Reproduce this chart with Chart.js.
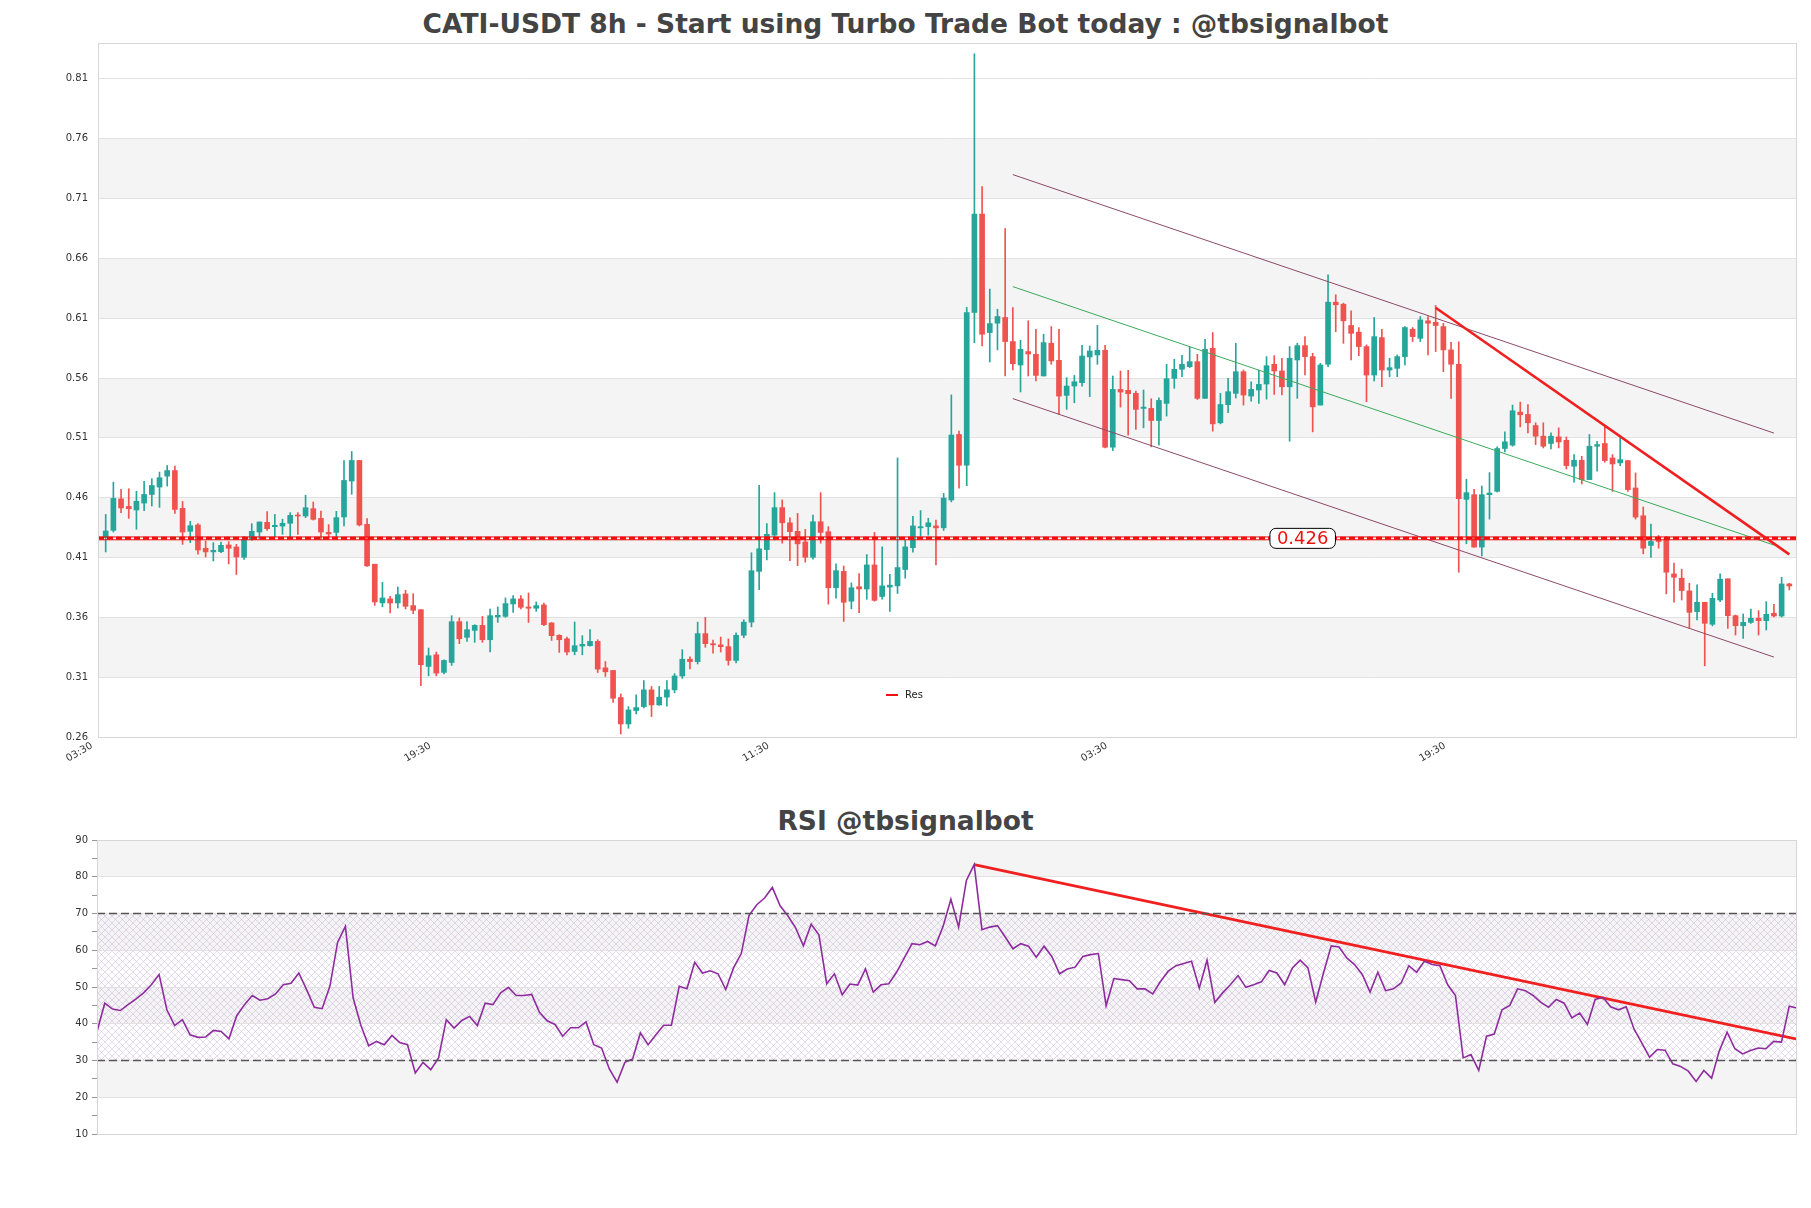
<!DOCTYPE html>
<html>
<head>
<meta charset="utf-8">
<script src="https://cdn.jsdelivr.net/npm/chart.js@4.4.0/dist/chart.umd.min.js"></script>
<style>
    body { margin: 0; background: #fff; width: 1811px; height: 1208px; position: relative; overflow: hidden; font-family: "DejaVu Sans", sans-serif; }
    .title { position: absolute; left: 0; width: 1811px; text-align: center; font-weight: bold; font-size: 26.5px; color: #444; line-height: 31px; }
    #priceWrap { position: absolute; left: 0; top: 0; }
    #rsiWrap { position: absolute; left: 0; top: 790px; }
</style>
</head>
<body>
<div class="title" style="top:8px">CATI-USDT 8h - Start using Turbo Trade Bot today : @tbsignalbot</div>
<div class="title" style="top:805px">RSI @tbsignalbot</div>
<div id="priceWrap"><canvas id="priceChart" width="1811" height="790"></canvas></div>
<div id="rsiWrap"><canvas id="rsiChart" width="1811" height="418"></canvas></div>
<script>
// candles (8h)
const candleOpen = [
    0.4267,0.4327,0.459,0.4527,0.4497,0.4555,0.4627,0.4689,0.478,0.4827,
    0.4511,0.4319,0.4372,0.4177,0.4147,0.4149,0.4205,0.4188,0.4102,0.4252,
    0.4313,0.4394,0.4358,0.4363,0.4386,0.4455,0.4447,0.4508,0.4427,0.431,
    0.431,0.4439,0.4739,0.4911,0.4377,0.4044,0.3721,0.3754,0.372,0.3796,
    0.3698,0.3664,0.319,0.3287,0.314,0.3223,0.3564,0.3433,0.3491,0.3533,
    0.3413,0.3603,0.3608,0.3712,0.3754,0.3687,0.3676,0.3704,0.3553,0.345,
    0.3421,0.3315,0.336,0.3363,0.3399,0.3178,0.3156,0.293,0.2709,0.2821,
    0.2854,0.2994,0.2868,0.2933,0.2994,0.311,0.325,0.323,0.3464,0.338,
    0.337,0.3355,0.324,0.345,0.356,0.3984,0.4166,0.4287,0.4517,0.439,
    0.4319,0.423,0.4102,0.4399,0.4316,0.3847,0.3984,0.3735,0.3856,0.3837,
    0.4038,0.3774,0.3853,0.3863,0.4,0.4182,0.4348,0.4358,0.4364,0.4348,
    0.4581,0.5128,0.4871,0.6148,0.697,0.598,0.6058,0.6106,0.5905,0.5709,
    0.5821,0.5798,0.5617,0.5891,0.5748,0.5455,0.5533,0.5561,0.5776,0.5793,
    0.5832,0.5022,0.5505,0.5497,0.5472,0.5346,0.5346,0.5245,0.5388,0.5597,
    0.5673,0.5695,0.5737,0.543,0.5849,0.5226,0.5377,0.5472,0.5653,0.5449,
    0.55,0.555,0.5715,0.5659,0.5527,0.5751,0.5871,0.5779,0.5374,0.5715,
    0.6234,0.6217,0.6039,0.5983,0.5863,0.5625,0.5938,0.5667,0.5681,0.5779,
    0.6008,0.5932,0.6078,0.6066,0.603,0.5835,0.5715,0.4586,0.4625,0.4187,
    0.4625,0.4653,0.5011,0.5039,0.5315,0.5296,0.5203,0.5114,0.5053,0.5108,
    0.508,0.4863,0.4913,0.4751,0.503,0.5053,0.4932,0.4891,0.491,0.4681,
    0.4449,0.4201,0.4248,0.4254,0.3963,0.3927,0.3821,0.3648,0.3726,0.3542,
    0.3745,0.3922,0.3614,0.353,0.3558,0.3592,0.3572,0.3634,0.3611,0.3879
];
const candleHigh = [
    0.446,0.473,0.467,0.4675,0.4653,0.4736,0.4758,0.4814,0.4869,0.4864,
    0.4569,0.4402,0.4383,0.4238,0.4224,0.423,0.4233,0.421,0.4275,0.4383,
    0.4397,0.4483,0.446,0.442,0.4475,0.4475,0.462,0.4564,0.4489,0.4375,
    0.4486,0.4911,0.4986,0.4911,0.4425,0.4044,0.3893,0.3776,0.3854,0.3826,
    0.3798,0.3664,0.3343,0.331,0.3245,0.3614,0.3595,0.3564,0.3539,0.3608,
    0.367,0.3687,0.3762,0.3782,0.3782,0.3804,0.3729,0.372,0.3558,0.3455,
    0.3435,0.3561,0.3447,0.3497,0.3413,0.3231,0.3156,0.296,0.2854,0.2952,
    0.3072,0.3022,0.3022,0.3072,0.313,0.333,0.327,0.356,0.36,0.341,
    0.3435,0.342,0.347,0.358,0.414,0.4703,0.4384,0.4642,0.4581,0.4431,
    0.4469,0.4335,0.4454,0.4642,0.4358,0.4048,0.4029,0.3888,0.3965,0.4125,
    0.431,0.4189,0.3959,0.4932,0.4246,0.4444,0.4492,0.4428,0.4412,0.4636,
    0.5459,0.5156,0.619,0.831,0.72,0.6343,0.6175,0.685,0.6189,0.5916,
    0.6078,0.6008,0.5966,0.603,0.6008,0.5603,0.5622,0.5874,0.5868,0.6041,
    0.5874,0.5617,0.5659,0.5664,0.5491,0.55,0.5427,0.5435,0.5715,0.5757,
    0.579,0.5863,0.5798,0.5924,0.598,0.5472,0.5597,0.589,0.5667,0.5569,
    0.5667,0.5779,0.5787,0.5765,0.5863,0.589,0.5946,0.5807,0.5723,0.6463,
    0.6296,0.6226,0.6161,0.6022,0.5877,0.6106,0.6008,0.5765,0.5793,0.603,
    0.6022,0.6114,0.6114,0.6206,0.6058,0.5899,0.5902,0.4754,0.467,0.4698,
    0.481,0.5025,0.515,0.5374,0.5399,0.5379,0.5226,0.5226,0.5142,0.5184,
    0.5108,0.496,0.4946,0.5128,0.5072,0.5203,0.496,0.51,0.491,0.4807,
    0.4522,0.4379,0.4284,0.4276,0.4053,0.4002,0.3885,0.3871,0.3726,0.3801,
    0.3963,0.3922,0.362,0.3628,0.367,0.3656,0.3731,0.3709,0.3935,0.3885
];
const candleLow = [
    0.4146,0.4313,0.4475,0.4427,0.4336,0.4492,0.453,0.4519,0.4697,0.4469,
    0.421,0.4224,0.4127,0.4105,0.4071,0.4141,0.4046,0.3958,0.4085,0.4244,
    0.4252,0.4327,0.4274,0.4294,0.4252,0.4294,0.4433,0.4413,0.4252,0.4252,
    0.4252,0.4364,0.4628,0.4364,0.4025,0.37,0.3688,0.3636,0.3678,0.367,
    0.3631,0.3028,0.3111,0.3111,0.3128,0.3198,0.338,0.3399,0.3391,0.3391,
    0.331,0.3558,0.36,0.3642,0.367,0.3558,0.365,0.353,0.3407,0.3307,
    0.3287,0.3287,0.3287,0.336,0.3139,0.3106,0.2888,0.2625,0.2673,0.2793,
    0.2843,0.2771,0.2865,0.2857,0.297,0.309,0.317,0.321,0.335,0.33,
    0.331,0.32,0.322,0.343,0.352,0.3831,0.408,0.4246,0.422,0.4074,
    0.4032,0.4061,0.4086,0.422,0.371,0.376,0.3566,0.3671,0.364,0.3751,
    0.3735,0.3751,0.3649,0.3799,0.3927,0.4144,0.4278,0.4287,0.4039,0.4326,
    0.4565,0.468,0.47,0.5896,0.5868,0.5734,0.5835,0.5617,0.5667,0.5483,
    0.5617,0.5575,0.5617,0.5715,0.5296,0.5338,0.5393,0.5533,0.5444,0.5715,
    0.5016,0.4994,0.5357,0.5123,0.517,0.5184,0.5025,0.5039,0.5282,0.5514,
    0.5611,0.5687,0.5421,0.543,0.5156,0.5217,0.531,0.5433,0.5374,0.5407,
    0.5388,0.5424,0.5463,0.5458,0.5072,0.543,0.5625,0.515,0.5374,0.5695,
    0.5988,0.589,0.5751,0.5787,0.5402,0.5575,0.5527,0.5611,0.5611,0.5709,
    0.5905,0.5905,0.5793,0.5821,0.5653,0.543,0.3977,0.4215,0.4187,0.4112,
    0.4421,0.4647,0.4983,0.503,0.5192,0.5142,0.5044,0.5016,0.5008,0.5016,
    0.484,0.4729,0.4715,0.4751,0.4821,0.4896,0.4653,0.4868,0.4653,0.4421,
    0.4131,0.41,0.4178,0.3796,0.3726,0.3745,0.3508,0.3578,0.3195,0.3528,
    0.3731,0.3508,0.3452,0.3424,0.355,0.3452,0.3494,0.3603,0.3603,0.3829
];
const candleClose = [
    0.4322,0.4594,0.4514,0.4508,0.457,0.4627,0.4702,0.4767,0.4827,0.4502,
    0.4313,0.4366,0.4163,0.4147,0.416,0.4202,0.4177,0.4105,0.4252,0.4319,
    0.4397,0.4341,0.4369,0.4386,0.4452,0.4447,0.4516,0.4419,0.4313,0.4297,
    0.4433,0.4744,0.4911,0.4372,0.403,0.3729,0.3762,0.372,0.379,0.3692,
    0.3659,0.3204,0.3279,0.3134,0.324,0.3564,0.3421,0.3497,0.3533,0.3413,
    0.3614,0.3617,0.3715,0.3754,0.3684,0.3676,0.3698,0.3539,0.3447,0.3413,
    0.331,0.3363,0.3374,0.3399,0.3167,0.3145,0.2924,0.2709,0.2826,0.2846,
    0.2994,0.2868,0.2933,0.2994,0.311,0.325,0.323,0.3464,0.338,0.337,
    0.3355,0.324,0.345,0.356,0.399,0.4173,0.4294,0.4517,0.439,0.4316,
    0.4214,0.4102,0.4399,0.431,0.3847,0.399,0.3726,0.3847,0.3837,0.4038,
    0.3742,0.3863,0.3869,0.4016,0.4189,0.4364,0.4358,0.439,0.4348,0.4597,
    0.5124,0.4871,0.6148,0.697,0.5966,0.6055,0.6114,0.5905,0.572,0.584,
    0.5801,0.5622,0.5896,0.5743,0.5449,0.5533,0.5569,0.5784,0.5826,0.5832,
    0.5022,0.5505,0.5483,0.5469,0.5338,0.5357,0.5245,0.5413,0.5594,0.5673,
    0.5715,0.5737,0.543,0.584,0.5217,0.5379,0.5486,0.5653,0.5458,0.5505,
    0.5547,0.5703,0.5659,0.5527,0.5765,0.5871,0.5779,0.536,0.5709,0.6234,
    0.6212,0.6078,0.5974,0.5863,0.5625,0.5946,0.5667,0.5687,0.5779,0.6022,
    0.5946,0.6086,0.6058,0.6039,0.5835,0.5715,0.4592,0.4642,0.4187,0.4625,
    0.4639,0.5011,0.5067,0.5326,0.5293,0.5226,0.5114,0.503,0.5114,0.5066,
    0.4868,0.4913,0.4751,0.503,0.5044,0.491,0.4882,0.4918,0.4667,0.4438,
    0.4178,0.4234,0.4234,0.3977,0.3935,0.3824,0.3642,0.3726,0.355,0.3759,
    0.3919,0.3614,0.353,0.3558,0.3592,0.3572,0.3625,0.3611,0.3879,0.3862
];
const rsiValues = [
    37.9,45.6,44.0,43.6,45.2,46.7,48.4,50.6,53.4,43.8,
    39.5,41.1,37.0,36.3,36.4,38.2,37.9,35.9,42.2,45.2,
    47.7,46.4,46.8,48.1,50.6,51.0,53.8,49.3,44.5,44.1,
    50.2,62.2,66.5,47.0,39.5,34.0,35.2,34.3,36.8,34.9,
    34.3,26.6,29.5,27.5,30.7,41.1,38.8,40.9,42.0,39.5,
    45.6,45.2,48.4,49.9,47.7,47.7,48.0,43.1,40.8,39.8,
    36.6,38.9,38.9,40.5,34.3,33.4,27.7,24.1,29.5,30.4,
    37.5,34.3,37.0,39.6,39.6,50.2,49.5,56.7,53.8,54.4,
    53.6,49.3,55.2,59.1,69.5,72.4,74.2,77.1,72.1,69.4,
    66.1,61.2,67.1,64.2,50.9,53.6,47.9,50.8,50.5,54.9,
    48.6,50.6,50.9,54.0,57.9,61.8,61.5,62.4,61.2,66.5,
    73.9,66.3,79.0,83.3,65.6,66.3,66.7,63.6,60.4,61.8,
    61.1,58.1,61.1,58.3,53.6,54.9,55.4,58.3,58.8,59.1,
    44.9,52.3,52.0,51.7,49.5,49.5,48.1,51.5,54.3,55.8,
    56.4,57.0,49.7,57.3,45.8,48.4,50.6,53.1,49.9,50.6,
    51.4,54.5,53.8,50.6,55.2,57.3,55.2,45.9,53.8,61.2,
    60.9,57.9,56.1,53.4,48.6,54.0,49.0,49.5,51.1,55.8,
    54.0,57.0,56.1,55.8,50.6,47.7,30.7,31.6,27.3,36.6,
    37.2,43.8,45.0,49.5,49.0,47.7,45.8,44.5,46.6,45.6,
    41.6,42.9,39.8,46.6,47.2,44.6,43.8,44.6,38.6,34.8,
    30.9,33.0,32.8,29.1,28.4,27.1,24.3,27.3,25.2,32.7,
    37.7,33.2,31.8,32.7,33.4,33.2,35.2,35.0,44.8,44.3
];

const xTickPositions = [-1, 43, 87, 131, 175];
const xTickLabels = ['03:30', '19:30', '11:30', '03:30', '19:30'];
const priceTicks = [0.26, 0.31, 0.36, 0.41, 0.46, 0.51, 0.56, 0.61, 0.66, 0.71, 0.76, 0.81];
const rsiLevels = [30, 70];

const resLevel = 0.426;
// [candle index, price]
const channelUpper = [[118, 0.730], [217, 0.514]];
const channelMiddle = [[118, 0.6364], [217, 0.4204]];
const channelLower = [[118, 0.5428], [217, 0.3268]];
const priceTrend = [[173, 0.6187], [219, 0.4126]];
// [rsi index, rsi]
const rsiTrend = [[113, 83.3], [219, 35.8]];

const upColor = '#26a69a';
const downColor = '#ef5350';
const candleColors = candleOpen.map((o, i) => candleClose[i] >= o ? upColor : downColor);

function toPoints(pairs) {
    return pairs.map(p => ({ x: p[0], y: p[1] }));
}

function lineDataset(pairs, color, width, dash) {
    return {
        type: 'line',
        data: toPoints(pairs),
        borderColor: color,
        borderWidth: width,
        borderDash: dash || [],
        pointRadius: 0,
        fill: false,
        tension: 0
    };
}

// grey bands + optional hatch behind everything
const bandsPlugin = {
    id: 'bands',
    beforeDraw(chart, args, opts) {
        const { ctx, chartArea } = chart;
        const y = chart.scales.y;
        ctx.save();
        ctx.fillStyle = '#f4f4f4';
        opts.bands.forEach(b => {
            const top = y.getPixelForValue(b[1]);
            const bottom = y.getPixelForValue(b[0]);
            ctx.fillRect(chartArea.left, top, chartArea.right - chartArea.left, bottom - top);
        });
        if (opts.hatch) {
            const tile = document.createElement('canvas');
            tile.width = 7; tile.height = 7;
            const t = tile.getContext('2d');
            t.strokeStyle = 'rgba(190,160,210,0.55)';
            t.lineWidth = 0.7;
            t.beginPath();
            t.moveTo(0, 0); t.lineTo(7, 7);
            t.moveTo(7, 0); t.lineTo(0, 7);
            t.stroke();
            ctx.fillStyle = ctx.createPattern(tile, 'repeat');
            const top = y.getPixelForValue(opts.hatch[1]);
            const bottom = y.getPixelForValue(opts.hatch[0]);
            ctx.fillRect(chartArea.left, top, chartArea.right - chartArea.left, bottom - top);
        }
        ctx.restore();
    },
    afterDraw(chart) {
        const { ctx, chartArea } = chart;
        ctx.save();
        ctx.strokeStyle = '#d6d6d6';
        ctx.lineWidth = 1;
        ctx.strokeRect(chartArea.left + 0.5, chartArea.top + 0.5,
            chartArea.right - chartArea.left - 1, chartArea.bottom - chartArea.top);
        ctx.restore();
    }
};

// price label box and the small legend
const priceNotes = {
    id: 'priceNotes',
    afterDatasetsDraw(chart) {
        const { ctx } = chart;
        const x = chart.scales.x.getPixelForValue(155.7);
        const y = chart.scales.y.getPixelForValue(resLevel);
        ctx.save();
        ctx.font = '18px "DejaVu Sans"';
        const label = resLevel.toFixed(3);
        const w = ctx.measureText(label).width + 14;
        const h = 20;
        ctx.beginPath();
        ctx.roundRect(x - w / 2, y - h / 2, w, h, 6);
        ctx.fillStyle = '#fff';
        ctx.fill();
        ctx.strokeStyle = '#000';
        ctx.lineWidth = 1;
        ctx.stroke();
        ctx.fillStyle = '#ee1111';
        ctx.textAlign = 'center';
        ctx.textBaseline = 'middle';
        ctx.fillText(label, x, y + 1);

        // legend
        ctx.strokeStyle = '#ee1111';
        ctx.lineWidth = 2;
        ctx.beginPath();
        ctx.moveTo(886, 695);
        ctx.lineTo(898, 695);
        ctx.stroke();
        ctx.fillStyle = '#222';
        ctx.font = '10px "DejaVu Sans"';
        ctx.textAlign = 'left';
        ctx.fillText('Res', 905, 695);
        ctx.restore();
    }
};

const candleIdx = candleOpen.map((_, i) => i);

new Chart(document.getElementById('priceChart'), {
    type: 'bar',
    data: {
        datasets: [
            {
                data: candleIdx.map(i => ({ x: i, y: [candleLow[i], candleHigh[i]] })),
                backgroundColor: candleColors,
                barThickness: 1,
                grouped: false,
                order: 3
            },
            {
                data: candleIdx.map(i => ({ x: i, y: [candleOpen[i], candleClose[i]] })),
                backgroundColor: candleColors,
                barThickness: 5,
                minBarLength: 1,
                grouped: false,
                order: 2
            },
            Object.assign(lineDataset([[-1, resLevel - 0.0012], [220, resLevel - 0.0012]], '#ee1111', 1), { order: 1 }),
            Object.assign(lineDataset([[-1, resLevel + 0.0012], [220, resLevel + 0.0012]], '#ee1111', 1), { order: 1 }),
            Object.assign(lineDataset([[-1, resLevel], [220, resLevel]], '#ee1111', 3, [6, 3]), { order: 1 }),
            Object.assign(lineDataset(channelUpper, '#8c4a66', 1), { order: 1 }),
            Object.assign(lineDataset(channelMiddle, '#3caa5c', 1), { order: 1 }),
            Object.assign(lineDataset(channelLower, '#8c4a66', 1), { order: 1 }),
            Object.assign(lineDataset(priceTrend, '#f02020', 2.6), { order: 0 })
        ]
    },
    options: {
        responsive: false,
        animation: false,
        layout: { padding: { left: 0, right: 14, top: 43, bottom: 0 } },
        plugins: {
            legend: { display: false },
            tooltip: { enabled: false },
            bands: { bands: [[0.31, 0.36], [0.41, 0.46], [0.51, 0.56], [0.61, 0.66], [0.71, 0.76]] }
        },
        scales: {
            x: {
                type: 'linear',
                min: -1,
                max: 220,
                offset: false,
                grid: { display: false },
                border: { display: false },
                afterBuildTicks: scale => { scale.ticks = xTickPositions.map(v => ({ value: v })); },
                afterFit: scale => { scale.height = 53; },
                ticks: {
                    autoSkip: false,
                    minRotation: 30,
                    maxRotation: 30,
                    padding: -5,
                    labelOffset: -6,
                    color: '#333',
                    font: { size: 10, family: 'DejaVu Sans' },
                    callback: (v, i) => xTickLabels[i]
                }
            },
            y: {
                type: 'linear',
                min: 0.26,
                max: 0.84,
                grid: { color: '#e2e2e2', drawTicks: false },
                border: { display: false },
                afterBuildTicks: scale => { scale.ticks = priceTicks.map(v => ({ value: v })); },
                afterFit: scale => { scale.width = 98; },
                ticks: {
                    padding: 10,
                    color: '#333',
                    font: { size: 10, family: 'DejaVu Sans' },
                    callback: v => v.toFixed(2)
                }
            }
        }
    },
    plugins: [bandsPlugin, priceNotes]
});

const rsiIdx = rsiValues.map((_, i) => i);

new Chart(document.getElementById('rsiChart'), {
    type: 'line',
    data: {
        datasets: [
            lineDataset([[0, rsiLevels[1]], [219, rsiLevels[1]]], '#555', 1.3, [8, 4]),
            lineDataset([[0, rsiLevels[0]], [219, rsiLevels[0]]], '#555', 1.3, [8, 4]),
            {
                data: rsiIdx.map(i => ({ x: i, y: rsiValues[i] })),
                borderColor: '#8e2c9e',
                borderWidth: 1.6,
                pointRadius: 0,
                tension: 0
            },
            lineDataset(rsiTrend, '#f02020', 2.6)
        ]
    },
    options: {
        responsive: false,
        animation: false,
        layout: { padding: { left: 0, right: 14, top: 50, bottom: 74 } },
        plugins: {
            legend: { display: false },
            tooltip: { enabled: false },
            bands: { bands: [[20, 30], [40, 50], [60, 70], [80, 90]], hatch: [30, 70] }
        },
        scales: {
            x: { type: 'linear', min: 0, max: 219, display: false },
            y: {
                type: 'linear',
                min: 10,
                max: 90,
                border: { display: false },
                grid: {
                    color: c => (c.tick && c.tick.value % 10 === 0) ? '#e2e2e2' : 'rgba(0,0,0,0)',
                    tickColor: '#999',
                    tickLength: 5
                },
                afterFit: scale => { scale.width = 97; },
                ticks: {
                    stepSize: 5,
                    padding: 4,
                    color: '#333',
                    font: { size: 10, family: 'DejaVu Sans' },
                    callback: v => v % 10 === 0 ? v : ''
                }
            }
        }
    },
    plugins: [bandsPlugin]
});
</script>
</body>
</html>
